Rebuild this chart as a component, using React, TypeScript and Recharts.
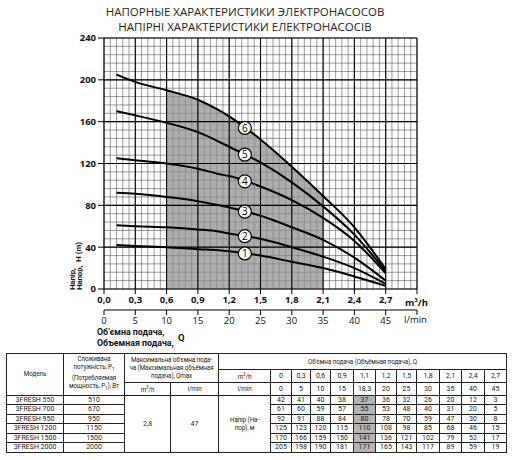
import React from "react";
import { ComposedChart, Line, Area, XAxis, YAxis, CartesianGrid, ReferenceLine } from "recharts";

// flow points of the curves (m3/h); curves start a little right of zero
const curveFlow = [0.12, 0.3, 0.6, 0.9, 1.1, 1.2, 1.5, 1.8, 2.1, 2.4, 2.7];
// flow columns of the table
const tableFlow = [0, 0.3, 0.6, 0.9, 1.1, 1.2, 1.5, 1.8, 2.1, 2.4, 2.7];
const tableLpm = [0, 5, 10, 15, 18.3, 20, 25, 30, 35, 40, 45];

const models = ["3FRESH 550", "3FRESH 700", "3FRESH 950", "3FRESH 1200", "3FRESH 1500", "3FRESH 2000"];
const powers = [510, 670, 950, 1150, 1500, 2000];

const head550 = [42, 41, 40, 38, 37, 36, 32, 26, 20, 12, 3];
const head700 = [61, 60, 59, 57, 55, 53, 48, 40, 31, 20, 5];
const head950 = [92, 91, 88, 84, 80, 78, 70, 59, 47, 30, 8];
const head1200 = [125, 123, 120, 115, 110, 108, 98, 85, 68, 46, 15];
const head1500 = [170, 166, 159, 150, 141, 136, 121, 102, 79, 52, 17];
const head2000 = [205, 198, 190, 181, 171, 165, 143, 117, 89, 59, 19];
const heads = [head550, head700, head950, head1200, head1500, head2000];

const qmaxM3h = 2.8;
const qmaxLpm = 47;

// working range (shaded band)
const workFrom = 0.6;
const workTo = 2.1;

const xTicks = [0, 0.3, 0.6, 0.9, 1.2, 1.5, 1.8, 2.1, 2.4, 2.7, 3.0];
const lpmTicks = [0, 5, 10, 15, 20, 25, 30, 35, 40, 45, 50];
const yTicks = [0, 40, 80, 120, 160, 200, 240];

const minorX = Array.from({ length: 51 }, (_, i) => +(i * 0.06).toFixed(2));
const minorY = Array.from({ length: 31 }, (_, i) => i * 8);

const M3H_TO_LPM = 1000 / 60;

const rows = curveFlow.map((q, i) => {
  const r: any = { q, lpm: q * M3H_TO_LPM };
  heads.forEach((h, k) => (r["h" + (k + 1)] = h[i]));
  r.shade = q >= workFrom && q <= workTo ? head2000[i] : null;
  return r;
});

const labelIdx = curveFlow.indexOf(1.5);

const fmt = (v: number) => String(v).replace(".", ",");

const makeDot = (num: number) => (props: any) => {
  const { index, points, cx, cy } = props;
  if (index !== labelIdx) return <g key={`d${num}-${index}`} />;
  let x = cx;
  let y = cy;
  if (points && points[index - 1]) {
    x = (points[index - 1].x + points[index].x) / 2;
    y = (points[index - 1].y + points[index].y) / 2;
  }
  return (
    <g key={`d${num}-${index}`}>
      <circle cx={x} cy={y} r={6.5} fill="#fff" stroke="#000" strokeWidth={1.2} />
      <text x={x} y={y + 3.6} textAnchor="middle" fontSize={10} fontFamily="Open Sans" fill="#000">
        {num}
      </text>
    </g>
  );
};

const tickStyle = { fontSize: 9.5, fontWeight: 700, fill: "#111", fontFamily: "Open Sans" };

const colW = [57, 61, 46, 48, 52, 21, 19, 20, 23, 22, 21, 20, 23, 22, 23, 22];
const cell: React.CSSProperties = {
  border: "1px solid #222",
  padding: 0,
  textAlign: "center",
  verticalAlign: "middle",
  lineHeight: "8.5px",
  overflow: "hidden",
  whiteSpace: "nowrap",
};
const hdr: React.CSSProperties = { ...cell, fontSize: 6.3, lineHeight: "8px", letterSpacing: -0.1 };
const shadeCol = tableFlow.indexOf(1.1);

function PumpTable() {
  return (
    <table
      style={{
        position: "absolute",
        left: 6,
        top: 353,
        width: 500,
        height: 98,
        borderCollapse: "collapse",
        tableLayout: "fixed",
        fontFamily: "Roboto",
        fontSize: 7,
        color: "#222",
      }}
    >
      <colgroup>
        {colW.map((w, i) => (
          <col key={i} style={{ width: w }} />
        ))}
      </colgroup>
      <tbody>
        <tr style={{ height: 16 }}>
          <td style={hdr} rowSpan={3}>Модель</td>
          <td style={hdr} rowSpan={3}>
            Споживана<br />потужність, P<sub style={{ fontSize: 4.5 }}>1</sub><br />(Потребляемая<br />мощность, P<sub style={{ fontSize: 4.5 }}>1</sub>), Вт
          </td>
          <td style={hdr} rowSpan={2} colSpan={2}>
            Максимальна об'ємна пода-<br />ча (Максимальная объёмная<br />подача), Qmax
          </td>
          <td style={hdr} colSpan={12}>Об'ємна подача (Объёмная подача), Q</td>
        </tr>
        <tr style={{ height: 12.7 }}>
          <td style={hdr}>m<sup style={{ fontSize: 4.5 }}>3</sup>/h</td>
          {tableFlow.map((q, i) => (
            <td key={i} style={cell}>{fmt(q)}</td>
          ))}
        </tr>
        <tr style={{ height: 13.3 }}>
          <td style={hdr}>m<sup style={{ fontSize: 4.5 }}>3</sup>/h</td>
          <td style={hdr}>l/min</td>
          <td style={hdr}>l/min</td>
          {tableLpm.map((q, i) => (
            <td key={i} style={cell}>{fmt(q)}</td>
          ))}
        </tr>
        {models.map((m, r) => (
          <tr key={m} style={{ height: 9.3 }}>
            <td style={cell}>{m}</td>
            <td style={cell}>{powers[r]}</td>
            {r === 0 && (
              <>
                <td style={cell} rowSpan={6}>{fmt(qmaxM3h)}</td>
                <td style={cell} rowSpan={6}>{qmaxLpm}</td>
                <td style={hdr} rowSpan={6}>Напір (На-<br />пор), м</td>
              </>
            )}
            {heads[r].map((h, i) => (
              <td key={i} style={{ ...cell, background: i === shadeCol ? "#b4b4b4" : undefined }}>{h}</td>
            ))}
          </tr>
        ))}
      </tbody>
    </table>
  );
}

export default function App() {
  return (
    <div style={{ position: "absolute", left: 0, top: 0, width: 512, height: 460, background: "#fff" }}>
      <ComposedChart width={512} height={340} data={rows} margin={{ top: 38, right: 95, left: 0, bottom: 10 }}>
        <CartesianGrid
          stroke="#555"
          strokeWidth={0.6}
          horizontalValues={minorY}
          verticalValues={minorX}
        />
        {xTicks.slice(1).map((x) => (
          <ReferenceLine key={"x" + x} x={x} stroke="#000" strokeWidth={1.1} />
        ))}
        {yTicks.slice(1).map((y) => (
          <ReferenceLine key={"y" + y} y={y} stroke="#000" strokeWidth={1.1} />
        ))}
        <XAxis
          dataKey="q"
          type="number"
          domain={[0, 3]}
          ticks={xTicks}
          tickFormatter={(v: number) => (v >= 3 ? "" : v.toFixed(1).replace(".", ","))}
          tick={tickStyle}
          tickSize={5}
          tickMargin={2}
          height={21}
          axisLine={{ stroke: "#000", strokeWidth: 1.2 }}
          tickLine={{ stroke: "#000" }}
          interval={0}
        />
        <XAxis
          xAxisId="lpm"
          dataKey="lpm"
          type="number"
          domain={[0, 50]}
          allowDataOverflow
          ticks={lpmTicks}
          tickFormatter={(v: number) => (v >= 50 ? "" : String(v))}
          tick={{ fontSize: 9.5, fill: "#111", fontFamily: "Open Sans" }}
          tickSize={5}
          tickMargin={2}
          height={20}
          axisLine={{ stroke: "#000", strokeWidth: 1.2 }}
          tickLine={{ stroke: "#000" }}
          interval={0}
        />
        <YAxis
          type="number"
          domain={[0, 240]}
          ticks={yTicks}
          tick={tickStyle}
          tickSize={6}
          tickMargin={2}
          width={104}
          axisLine={{ stroke: "#000", strokeWidth: 1.2 }}
          tickLine={{ stroke: "#000" }}
          interval={0}
        />
        <Area
          dataKey="shade"
          type="monotone"
          fill="#8e8e8e"
          fillOpacity={0.72}
          stroke="none"
          isAnimationActive={false}
        />
        {heads.map((_, k) => (
          <Line
            key={k}
            dataKey={"h" + (k + 1)}
            type="monotone"
            stroke="#000"
            strokeWidth={2}
            dot={makeDot(k + 1)}
            activeDot={false}
            isAnimationActive={false}
          />
        ))}
      </ComposedChart>

      <svg width={512} height={460} style={{ position: "absolute", left: 0, top: 0, pointerEvents: "none" }}>
        <g fontFamily="Open Sans" fill="#222" fontSize={11.5} textAnchor="middle">
          <text x={245} y={15.5}>НАПОРНЫЕ ХАРАКТЕРИСТИКИ ЭЛЕКТРОНАСОСОВ</text>
          <text x={245} y={30.5}>НАПІРНІ ХАРАКТЕРИСТИКИ ЕЛЕКТРОНАСОСІВ</text>
        </g>
        <g fontFamily="Roboto" fontWeight={700} fontSize={8} fill="#111">
          <text transform="translate(74.5,290) rotate(-90)" letterSpacing={-0.2}>Напір,</text>
          <text transform="translate(82,290) rotate(-90)" letterSpacing={-0.2}>Напор,</text>
          <text transform="translate(80.5,262) rotate(-90)">H (m)</text>
        </g>
        <g fontFamily="Roboto" fontWeight={700} fontSize={8.8} fill="#111">
          <text x={97} y={335}>Об’ємна подача,</text>
          <text x={97} y={346}>Объемная подача,</text>
          <text x={178} y={341} fontSize={9.5}>Q</text>
        </g>
        <g fontFamily="Open Sans" fontWeight={700} fontSize={9.5} fill="#111">
          <text x={405} y={306}>
            m<tspan fontSize={6} dy={-4}>3</tspan>
            <tspan dy={4}>/h</tspan>
          </text>
        </g>
        <text x={404} y={323} fontFamily="Open Sans" fontSize={9.5} fill="#111">l/min</text>
      </svg>
      <PumpTable />
    </div>
  );
}
